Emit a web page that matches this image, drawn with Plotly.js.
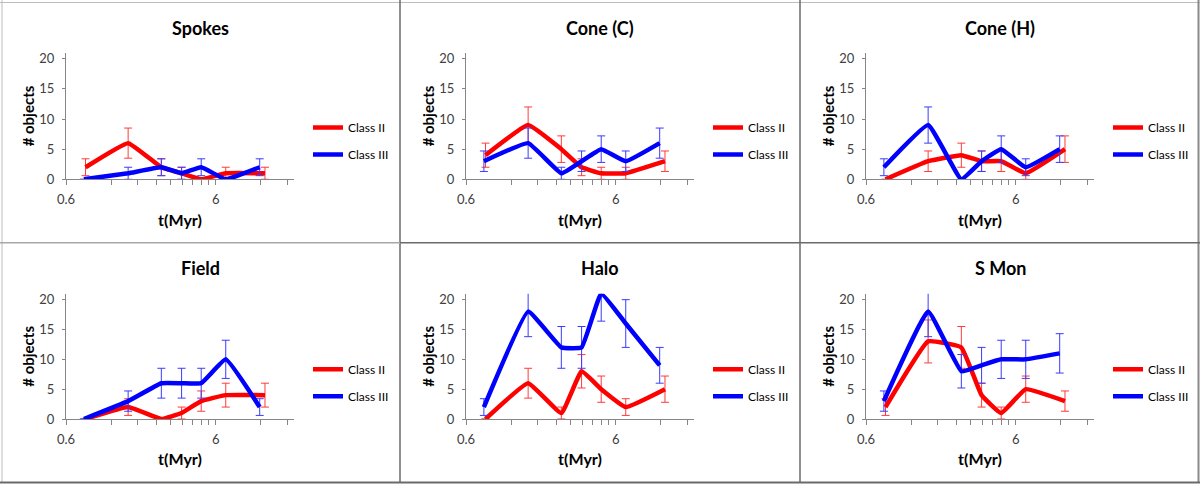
<!DOCTYPE html>
<html>
<head>
<meta charset="utf-8">
<script src="https://cdn.plot.ly/plotly-3.0.1.min.js"></script>
<style>
  html, body { margin: 0; padding: 0; background: #fff; }
  #chart { width: 1200px; height: 486px; }
</style>
</head>
<body>
<div id="chart"></div>
<script>
// time bins (Myr), Class II and Class III are offset a little in the last bin
const xClassII  = [0.81, 1.56, 2.6, 3.55, 4.8, 7.0, 12.8];
const xClassIII = [0.79, 1.56, 2.6, 3.55, 4.8, 7.0, 11.8];

const xTickVals  = [0.6, 6];
const xTickText  = ['0.6', '6'];
const xMinorVals = [1.2, 1.8, 2.4, 3.0, 3.6, 4.2, 4.8, 5.4, 12, 18];
const yTickVals  = [0, 5, 10, 15, 20];

const panelNames = ['Spokes', 'Cone (C)', 'Cone (H)', 'Field', 'Halo', 'S Mon'];

// counts per bin
const spokesII   = [2, 6, 2, 1, 0, 1, 1];
const spokesIII  = [0, 1, 2, 1, 2, 0, 2];
const coneCII    = [4, 9, 5, 2, 1, 1, 3];
const coneCIII   = [3, 6, 1, 3, 5, 3, 6];
const coneHII    = [0, 3, 4, 3, 3, 1, 5];
const coneHIII   = [2, 9, 0, 3, 5, 2, 5];
const fieldII    = [0, 2, 0, 1, 3, 4, 4];
const fieldIII   = [0, 3, 6, 6, 6, 10, 2];
const haloII     = [0, 6, 1, 8, 5, 2, 5];
const haloIII    = [2, 18, 12, 12, 21, 16, 9];
const smonII     = [2, 13, 12, 4, 1, 5, 3];
const smonIII    = [3, 18, 8, 9, 10, 10, 11];

// error bar half-lengths
const spokesIIErr  = [1.4, 2.5, 1.4, 1.0, 0, 1.0, 1.0];
const spokesIIIErr = [0, 1.0, 1.4, 1.0, 1.4, 0, 1.4];
const coneCIIErr   = [2.0, 3.0, 2.2, 1.4, 1.0, 1.0, 1.7];
const coneCIIIErr  = [1.7, 2.5, 1.0, 1.7, 2.2, 1.7, 2.5];
const coneHIIErr   = [0, 1.7, 2.0, 1.7, 1.7, 1.0, 2.2];
const coneHIIIErr  = [1.4, 3.0, 0, 1.7, 2.2, 1.4, 2.2];
const fieldIIErr   = [0, 1.4, 0, 1.0, 1.7, 2.0, 2.0];
const fieldIIIErr  = [0, 1.7, 2.5, 2.5, 2.5, 3.2, 1.4];
const haloIIErr    = [0, 2.5, 1.0, 2.8, 2.2, 1.4, 2.2];
const haloIIIErr   = [1.4, 4.2, 3.5, 3.5, 4.6, 4.0, 3.0];
const smonIIErr    = [1.4, 3.6, 3.5, 2.0, 1.0, 2.2, 1.7];
const smonIIIErr   = [1.7, 4.2, 2.8, 3.0, 3.2, 3.2, 3.3];

const classII  = [spokesII, coneCII, coneHII, fieldII, haloII, smonII];
const classIII = [spokesIII, coneCIII, coneHIII, fieldIII, haloIII, smonIII];
const classIIErr  = [spokesIIErr, coneCIIErr, coneHIIErr, fieldIIErr, haloIIErr, smonIIErr];
const classIIIErr = [spokesIIIErr, coneCIIIErr, coneHIIIErr, fieldIIIErr, haloIIIErr, smonIIIErr];

const W = 1200, H = 486;
const FONT = 'Lato, "Open Sans", "DejaVu Sans", sans-serif';
const axisGrey = '#868686';

// panel geometry in pixels (panel local coords)
const rowTop    = [0, 243];
const plotTop   = [52.7, 50.7];
const plotBot   = [179.3, 176];
const legendMid = [141, 139.7];
const titleY    = [28, 25];

const traces = [];
const layout = {
    width: W, height: H,
    margin: { l: 0, r: 0, t: 0, b: 0 },
    paper_bgcolor: '#fff', plot_bgcolor: '#fff',
    font: { family: FONT, color: '#000' },
    showlegend: true,
    hovermode: false,
    annotations: [],
    shapes: []
};

panelNames.forEach((name, i) => {
    const row = Math.floor(i / 3), col = i % 3;
    const n = i + 1;
    const xa = 'x' + (n === 1 ? '' : n), ya = 'y' + (n === 1 ? '' : n);
    const legendId = 'legend' + (n === 1 ? '' : n);
    const left = col * 400;

    traces.push({
        x: xClassII, y: classII[i], xaxis: xa, yaxis: ya,
        type: 'scatter', mode: 'lines', name: 'Class II',
        legend: legendId, legendgroup: 'c2_' + n,
        line: { color: '#ff0000', width: 4.5, shape: 'spline', smoothing: 0.3 },
        error_y: { type: 'data', array: classIIErr[i], visible: true,
                   color: '#ff3b3b', thickness: 1, width: 4 }
    });
    traces.push({
        x: xClassIII, y: classIII[i], xaxis: xa, yaxis: ya,
        type: 'scatter', mode: 'lines', name: 'Class III',
        legend: legendId, legendgroup: 'c3_' + n,
        line: { color: '#0000ff', width: 4.5, shape: 'spline', smoothing: 0.3 },
        error_y: { type: 'data', array: classIIIErr[i], visible: true,
                   color: '#3b3bff', thickness: 1, width: 4 }
    });

    const xDomain = [(left + 66) / W, (left + 294) / W];
    const yDomain = [1 - (rowTop[row] + plotBot[row]) / H, 1 - (rowTop[row] + plotTop[row]) / H];

    layout['xaxis' + (n === 1 ? '' : n)] = {
        domain: xDomain, anchor: ya, type: 'log',
        range: [Math.log10(0.6), Math.log10(20)],
        tickmode: 'array', tickvals: xTickVals, ticktext: xTickText,
        ticks: 'outside', ticklen: 5, tickcolor: axisGrey,
        minor: { tickmode: 'array', tickvals: xMinorVals, ticks: 'outside', ticklen: 5, tickcolor: axisGrey },
        showline: true, linecolor: axisGrey, linewidth: 1,
        showgrid: false, zeroline: false,
        ticklabelstandoff: 3,
        tickfont: { family: FONT, size: 13, color: '#404040' },
        title: { text: 't(Myr)', standoff: 8, font: { family: FONT, size: 16, weight: 'bold', color: '#000' } }
    };
    layout['yaxis' + (n === 1 ? '' : n)] = {
        domain: yDomain, anchor: xa, range: [0, 21],
        tickmode: 'array', tickvals: yTickVals,
        ticks: 'outside', ticklen: 3, tickcolor: axisGrey,
        showline: true, linecolor: axisGrey, linewidth: 1,
        showgrid: false, zeroline: false,
        ticklabelstandoff: 5,
        tickfont: { family: FONT, size: 13, color: '#404040' },
        title: { text: '# objects', standoff: 1, font: { family: FONT, size: 15, weight: 'bold', color: '#000' } }
    };

    layout[legendId] = {
        x: (left + 308) / W, xanchor: 'left',
        y: 1 - (rowTop[row] + legendMid[row]) / H, yanchor: 'middle',
        traceorder: 'grouped', tracegroupgap: 8,
        bgcolor: 'rgba(0,0,0,0)', borderwidth: 0,
        font: { family: FONT, size: 12, color: '#000' }
    };

    layout.annotations.push({
        text: '<b>' + name + '</b>', xref: 'paper', yref: 'paper',
        x: (left + 200) / W, y: 1 - (rowTop[row] + titleY[row]) / H,
        xanchor: 'center', yanchor: 'middle', showarrow: false,
        font: { family: FONT, size: 18, color: '#000' }
    });
});

// panel frames
function frameLine(x0, y0, x1, y1, color, width) {
    layout.shapes.push({
        type: 'line', xref: 'paper', yref: 'paper',
        x0: x0 / W, y0: 1 - y0 / H, x1: x1 / W, y1: 1 - y1 / H,
        line: { color: color, width: width }
    });
}
frameLine(0, 2.5, W, 2.5, '#bdbdbd', 1);
frameLine(2, 0, 2, 483, '#bdbdbd', 1);
frameLine(1198.5, 0, 1198.5, 483, '#8a8a8a', 2);
frameLine(0, 482.5, W, 482.5, '#6a6a6a', 2);
frameLine(400, 0, 400, 483, '#6a6a6a', 1.5);
frameLine(800, 0, 800, 483, '#6a6a6a', 1.5);
frameLine(0, 242.7, 400, 242.7, '#a8a8a8', 1.5);
frameLine(400, 242.7, W, 242.7, '#6a6a6a', 1.5);

Plotly.newPlot('chart', traces, layout, { staticPlot: true, displayModeBar: false });
</script>
</body>
</html>
